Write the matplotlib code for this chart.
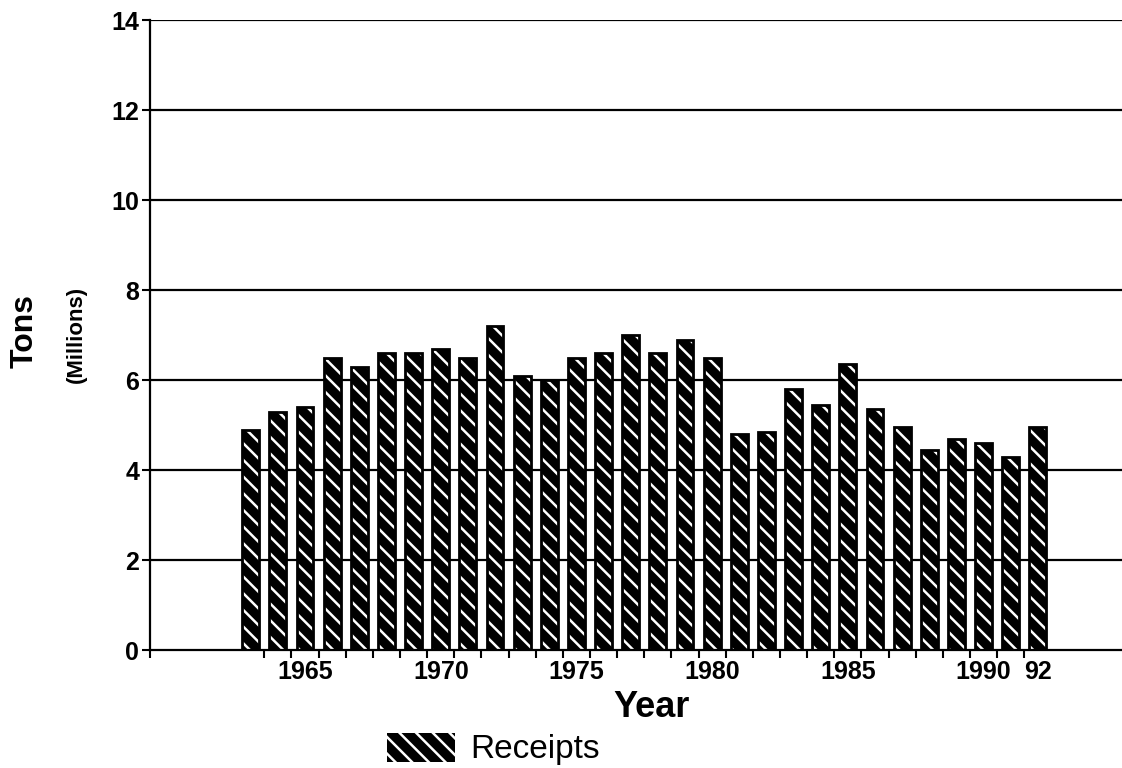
import matplotlib
matplotlib.use("Agg")
import matplotlib.pyplot as plt
from matplotlib.patches import Rectangle

# Receipts by year, millions of tons
years = list(range(1963, 1993))
receipts = [4.9, 5.3, 5.4, 6.5, 6.3, 6.6, 6.6, 6.7, 6.5, 7.2,
            6.1, 6.0, 6.5, 6.6, 7.0, 6.6, 6.9, 6.5, 4.8, 4.85,
            5.8, 5.45, 6.35, 5.35, 4.95, 4.45, 4.7, 4.6, 4.3, 4.95]
label_years = [1965, 1970, 1975, 1980, 1985, 1990, 1992]
label_text = ['1965', '1970', '1975', '1980', '1985', '1990', '92']
y_ticks = [0, 2, 4, 6, 8, 10, 12, 14]

plt.rcParams['font.family'] = ['Liberation Sans', 'DejaVu Sans']
plt.rcParams['hatch.linewidth'] = 1.8

HATCH = '\\\\'

fig = plt.figure(figsize=(11.22, 7.68), dpi=100)
ax = fig.add_axes([0.134, 0.1536, 0.866, 0.820])

# gridlines behind bars
for y in y_ticks[1:]:
    ax.axhline(y, color='black', linewidth=1.6, zorder=1)

# hatched bars: black fill with white diagonal stripes, then black outline
ax.bar(years, receipts, width=0.62, facecolor='black', edgecolor='white',
       hatch=HATCH, linewidth=0, zorder=2)
ax.bar(years, receipts, width=0.62, facecolor='none', edgecolor='black',
       linewidth=2.0, zorder=3)

ax.set_xlim(1959.3, 1995.1)
ax.set_ylim(0, 14)

for side in ['top', 'right']:
    ax.spines[side].set_visible(False)
ax.spines['left'].set_linewidth(1.6)
ax.spines['bottom'].set_linewidth(1.6)

ax.set_yticks(y_ticks)
ax.set_yticklabels([str(v) for v in y_ticks], fontsize=18, fontweight='bold')
ax.tick_params(axis='y', direction='out', length=6, width=1.5, pad=2)

# year labels under bar centres, tick marks between bars
ax.set_xticks(label_years)
ax.set_xticklabels(label_text, fontsize=18, fontweight='bold')
ax.tick_params(axis='x', which='major', length=0, pad=7)
ax.set_xticks([1959.3] + [y + 0.5 for y in years[:-1]], minor=True)
ax.tick_params(axis='x', which='minor', direction='out', length=6, width=1.5)

fig.text(0.581, 0.1016, 'Year', fontsize=26, fontweight='bold',
         ha='center', va='top')

fig.text(0.022, 0.569, 'Tons', rotation=90, fontsize=23, fontweight='bold',
         ha='center', va='center')
fig.text(0.068, 0.565, '(Millions)', rotation=90, fontsize=16, fontweight='bold',
         ha='center', va='center')

# legend drawn by hand below the axis
fig.patches.append(Rectangle((0.345, 0.008), 0.0606, 0.0378,
                             transform=fig.transFigure, facecolor='black',
                             edgecolor='white', hatch=HATCH, linewidth=0))
fig.text(0.419, 0.013, 'Receipts', fontsize=24, ha='left', va='baseline')

fig.savefig('out.png', dpi=100, facecolor='white')
